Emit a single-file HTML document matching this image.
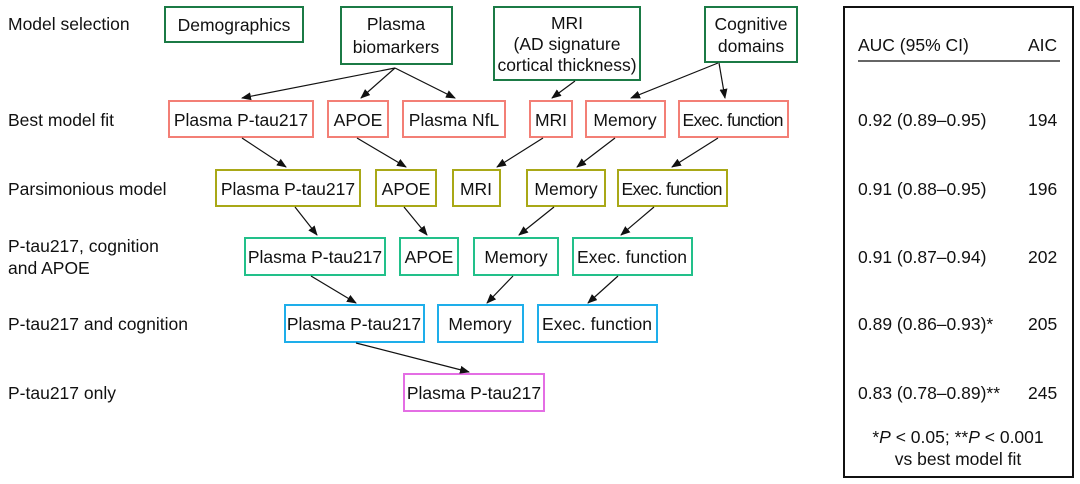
<!DOCTYPE html>
<html><head><meta charset="utf-8"><style>
body{margin:0;background:#fff}
svg{display:block}
text{font-family:"Liberation Sans",Arial,sans-serif;font-size:17.5px;fill:#111}
.c{text-anchor:middle}
rect{fill:#fff;stroke-width:2}
.g{stroke:#1b7a45}.s{stroke:#f37f76}.o{stroke:#a9a817}.t{stroke:#22c08a}.b{stroke:#1eaeea}.m{stroke:#e46ee4}
line{stroke:#111;stroke-width:1.2;marker-end:url(#a)}
</style></head><body>
<svg width="1080" height="484" viewBox="0 0 1080 484">
<defs><marker id="a" markerWidth="10" markerHeight="8" refX="9" refY="4" orient="auto" markerUnits="userSpaceOnUse"><path d="M0,0 L10,4 L0,8 Z" fill="#111"/></marker></defs>
<text x="8" y="30">Model selection</text>
<text x="8" y="126">Best model fit</text>
<text x="8" y="195">Parsimonious model</text>
<text x="8" y="252">P-tau217, cognition</text>
<text x="8" y="274">and APOE</text>
<text x="8" y="330">P-tau217 and cognition</text>
<text x="8" y="399">P-tau217 only</text>

<rect class="g" x="165" y="7" width="138" height="35"/><text class="c" x="234" y="31">Demographics</text>
<rect class="g" x="341" y="7" width="111" height="57"/><text class="c" x="396" y="30">Plasma</text><text class="c" x="396" y="53">biomarkers</text>
<rect class="g" x="494" y="7" width="146" height="73"/><text class="c" x="567" y="29">MRI</text><text class="c" x="567" y="50">(AD signature</text><text class="c" x="567" y="71">cortical thickness)</text>
<rect class="g" x="705" y="7" width="92" height="55"/><text class="c" x="751" y="30">Cognitive</text><text class="c" x="751" y="52">domains</text>

<rect class="s" x="169" y="101" width="144" height="36"/><text class="c" x="241" y="126">Plasma P-tau217</text>
<rect class="s" x="328" y="101" width="60" height="36"/><text class="c" x="358" y="126">APOE</text>
<rect class="s" x="403" y="101" width="102" height="36"/><text class="c" x="454" y="126">Plasma NfL</text>
<rect class="s" x="530" y="101" width="42" height="36"/><text class="c" x="551" y="126">MRI</text>
<rect class="s" x="586" y="101" width="79" height="36"/><text class="c" x="625" y="126">Memory</text>
<rect class="s" x="679" y="101" width="109" height="36"/><text class="c" x="733" y="126" textLength="101">Exec. function</text>

<rect class="o" x="216" y="170" width="144" height="36"/><text class="c" x="288" y="195">Plasma P-tau217</text>
<rect class="o" x="376" y="170" width="60" height="36"/><text class="c" x="406" y="195">APOE</text>
<rect class="o" x="453" y="170" width="47" height="36"/><text class="c" x="476" y="195">MRI</text>
<rect class="o" x="527" y="170" width="78" height="36"/><text class="c" x="566" y="195">Memory</text>
<rect class="o" x="618" y="170" width="109" height="36"/><text class="c" x="672" y="195" textLength="101">Exec. function</text>

<rect class="t" x="245" y="238" width="140" height="37"/><text class="c" x="315" y="263">Plasma P-tau217</text>
<rect class="t" x="400" y="238" width="58" height="37"/><text class="c" x="429" y="263">APOE</text>
<rect class="t" x="474" y="238" width="84" height="37"/><text class="c" x="516" y="263">Memory</text>
<rect class="t" x="573" y="238" width="119" height="37"/><text class="c" x="632" y="263">Exec. function</text>

<rect class="b" x="285" y="305" width="139" height="37"/><text class="c" x="354" y="330">Plasma P-tau217</text>
<rect class="b" x="438" y="305" width="85" height="37"/><text class="c" x="480" y="330">Memory</text>
<rect class="b" x="538" y="305" width="119" height="37"/><text class="c" x="597" y="330">Exec. function</text>

<rect class="m" x="404" y="374" width="140" height="37"/><text class="c" x="474" y="399">Plasma P-tau217</text>

<line x1="395" y1="68" x2="242" y2="98"/>
<line x1="395" y1="68" x2="361" y2="98"/>
<line x1="395" y1="68" x2="455" y2="98"/>
<line x1="575" y1="81" x2="552" y2="98"/>
<line x1="718" y1="63" x2="631" y2="98"/>
<line x1="719" y1="63" x2="725" y2="98"/>
<line x1="242" y1="138" x2="286" y2="167"/>
<line x1="357" y1="138" x2="406" y2="167"/>
<line x1="543" y1="138" x2="497" y2="167"/>
<line x1="615" y1="138" x2="577" y2="167"/>
<line x1="718" y1="138" x2="672" y2="167"/>
<line x1="295" y1="207" x2="317" y2="235"/>
<line x1="404" y1="207" x2="427" y2="235"/>
<line x1="554" y1="207" x2="519" y2="235"/>
<line x1="654" y1="207" x2="621" y2="235"/>
<line x1="311" y1="276" x2="356" y2="303"/>
<line x1="513" y1="276" x2="487" y2="303"/>
<line x1="618" y1="276" x2="588" y2="303"/>
<line x1="356" y1="343" x2="469" y2="372"/>

<rect x="844" y="7" width="229" height="470" style="stroke:#111;stroke-width:2;fill:none"/>
<text x="858" y="51">AUC (95% CI)</text><text x="1028" y="51">AIC</text>
<line x1="858" y1="61" x2="1060" y2="61" style="stroke:#333;stroke-width:1.5;marker-end:none"/>
<text x="858" y="126">0.92 (0.89–0.95)</text><text x="1028" y="126">194</text>
<text x="858" y="195">0.91 (0.88–0.95)</text><text x="1028" y="195">196</text>
<text x="858" y="263">0.91 (0.87–0.94)</text><text x="1028" y="263">202</text>
<text x="858" y="330">0.89 (0.86–0.93)*</text><text x="1028" y="330">205</text>
<text x="858" y="399">0.83 (0.78–0.89)**</text><text x="1028" y="399">245</text>
<text class="c" x="958" y="443">*<tspan font-style="italic">P</tspan> &lt; 0.05; **<tspan font-style="italic">P</tspan> &lt; 0.001</text>
<text class="c" x="958" y="465">vs best model fit</text>
</svg>
</body></html>
